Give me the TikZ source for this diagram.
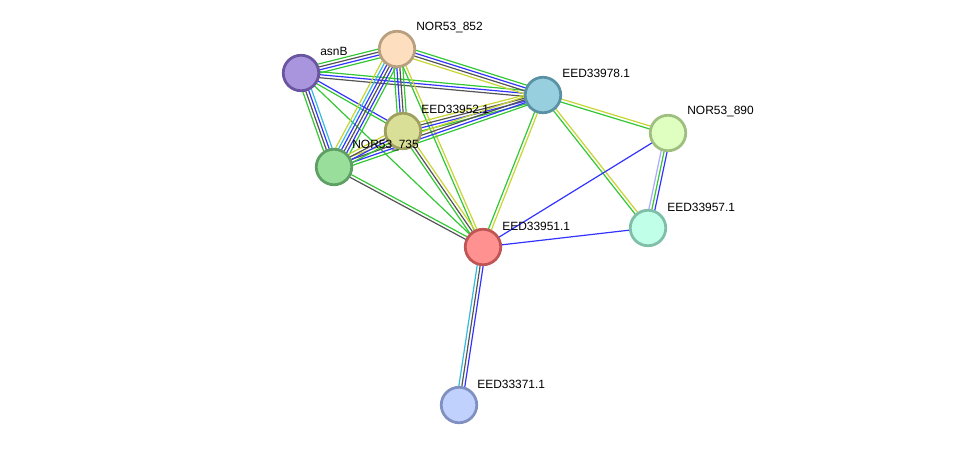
\documentclass[tikz,border=0pt]{standalone}
\usepackage{fontspec}
\setmainfont{Liberation Sans}
\usepackage{xcolor}
\usepackage{tikz}
\usetikzlibrary{calc, backgrounds, positioning}
\definecolor{edgegreen}{rgb}{0.20, 0.78, 0.20}
\definecolor{edgeblue}{rgb}{0.20, 0.20, 1.00}
\definecolor{edgegray}{rgb}{0.33, 0.33, 0.33}
\definecolor{edgecyan}{rgb}{0.20, 0.73, 0.87}
\definecolor{edgeyellow}{rgb}{0.78, 0.83, 0.20}
\definecolor{edgelav}{rgb}{0.67, 0.67, 1.00}

% parallel strands between two proteins, one per evidence colour
\newcommand{\bundle}[3]{%
	\xdef\nstrand{0}%
	\foreach \c in {#3}{\xdef\nstrand{\the\numexpr\nstrand+1\relax}}%
	\foreach \c [count=\i] in {#3}{%
		\pgfmathsetmacro{\off}{(\i-(\nstrand+1)/2)*0.06}%
		\draw[edge,\c] ($(#1)!\off cm!90:(#2)$) -- ($(#2)!\off cm!-90:(#1)$);
	}%
}

\tikzset{
	prot/.style={circle, minimum size=0.71cm, inner sep=0pt, line width=0.055cm},
	lbl/.style={font=\fontsize{6.8}{8}\selectfont, anchor=west, inner sep=0pt},
	edge/.style={line width=0.024cm}
}

\begin{document}
\begin{tikzpicture}[x=0.02cm, y=-0.02cm]
	\useasboundingbox (0,0) rectangle (975,451);
	
	\node[prot, fill={rgb,255:red,168;green,149;blue,221}, draw={rgb,255:red,106;green,85;blue,160}] (asnB) at (301,73) {};
	\node[prot, fill={rgb,255:red,253;green,223;blue,192}, draw={rgb,255:red,184;green,160;blue,126}] (n852) at (397,49) {};
	\node[prot, fill={rgb,255:red,151;green,207;blue,223}, draw={rgb,255:red,90;green,146;blue,165}] (e978) at (543,95) {};
	\node[prot, fill={rgb,255:red,218;green,223;blue,152}, draw={rgb,255:red,159;green,160;blue,96}] (e952) at (403,131) {};
	\node[prot, fill={rgb,255:red,154;green,222;blue,156}, draw={rgb,255:red,94;green,160;blue,100}] (n735) at (334,167) {};
	\node[prot, fill={rgb,255:red,222;green,255;blue,192}, draw={rgb,255:red,159;green,191;blue,128}] (n890) at (668,133) {};
	\node[prot, fill={rgb,255:red,192;green,255;blue,232}, draw={rgb,255:red,127;green,191;blue,168}] (e957) at (648,228) {};
	\node[prot, fill={rgb,255:red,255;green,145;blue,144}, draw={rgb,255:red,191;green,85;blue,85}] (e951) at (483,247) {};
	\node[prot, fill={rgb,255:red,193;green,209;blue,253}, draw={rgb,255:red,128;green,144;blue,192}] (e371) at (459,405) {};
	
	\node[lbl] (lasnB) at (320,51) {asnB};
	\node[lbl] (l852) at (416,28) {NOR53\_852};
	\node[lbl] (l978) at (562,73) {EED33978.1};
	\node[lbl] (l952) at (421,109) {EED33952.1};
	\node[lbl] (l735) at (352,146) {NOR53\_735};
	\node[lbl] (l890) at (687,112) {NOR53\_890};
	\node[lbl] (l957) at (667,207) {EED33957.1};
	\node[lbl] (l951) at (502,226) {EED33951.1};
	\node[lbl] (l371) at (477,384) {EED33371.1};
	
	\begin{scope}[on background layer]
		\bundle{asnB}{n852}{edgegreen,edgeblue,edgegray,edgegreen}
		\bundle{asnB}{e978}{edgegray,edgeblue,edgegreen}
		\bundle{asnB}{e952}{edgegreen,edgeblue}
		\bundle{asnB}{n735}{edgegreen,edgegray,edgeblue,edgecyan}
		\bundle{asnB}{e951}{edgegreen}
		\bundle{n852}{e978}{edgeyellow,edgegray,edgeblue,edgegreen}
		\bundle{n852}{e952}{edgegreen,edgeblue,edgegray,edgegreen}
		\bundle{n852}{n735}{edgeyellow,edgecyan,edgeblue,edgegray,edgeblue,edgegreen}
		\bundle{n852}{e951}{edgegreen,edgeyellow}
		\bundle{e978}{e952}{edgeyellow,edgegray,edgeblue,edgegreen}
		\bundle{e978}{n735}{edgeyellow,edgegray,edgeblue,edgegreen}
		\bundle{e978}{e951}{edgegreen,edgeyellow}
		\bundle{e978}{n890}{edgegreen,edgeyellow}
		\bundle{e978}{e957}{edgegreen,edgeyellow}
		\bundle{e952}{n735}{edgeyellow,edgegray,edgeblue,edgegreen}
		\bundle{e952}{e951}{edgegreen,edgegray,edgeyellow}
		\bundle{n735}{e951}{edgegray,edgegreen}
		\bundle{n890}{e957}{edgelav,edgegreen,edgeblue}
		\bundle{n890}{e951}{edgeblue}
		\bundle{e957}{e951}{edgeblue}
		\bundle{e951}{e371}{edgecyan,edgegray,edgeblue}
	\end{scope}
\end{tikzpicture}
\end{document}
